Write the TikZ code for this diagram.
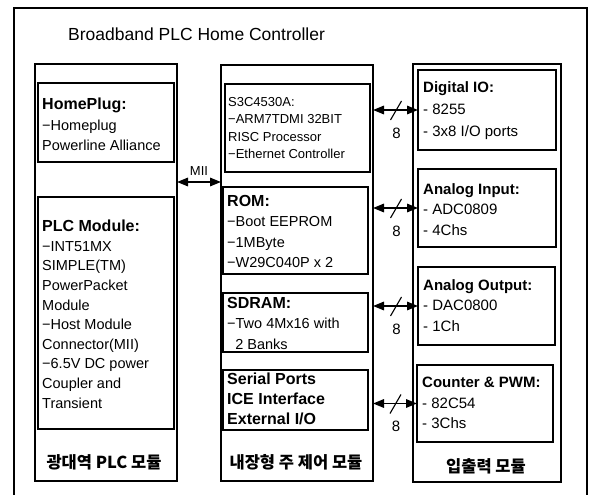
\documentclass[tikz,border=0pt]{standalone}
\usepackage{fontspec}
\setmainfont{Liberation Sans}
\newfontfamily\kr{Noto Sans CJK KR}
\usetikzlibrary{arrows.meta,calc}
\newcommand\hdbig[1]{{\fontsize{16}{20.5}\selectfont\bfseries #1}}
\tikzset{
  frameline/.style={line width=1.6pt},
  colbox/.style={draw, line width=1.2pt, anchor=north west, inner sep=0pt, outer sep=0pt},
  inbox/.style={draw, line width=1.7pt, anchor=north west, inner sep=0pt, outer sep=0pt},
  txt/.style={inner sep=0pt, anchor=north west, align=left, font=\fontsize{14.5}{20.5}\selectfont},
  plctxt/.style={inner sep=0pt, anchor=north west, align=left, font=\fontsize{14.5}{19.6}\selectfont},
  smalltxt/.style={inner sep=0pt, anchor=north west, align=left, font=\fontsize{13}{17.5}\selectfont},
  righttxt/.style={inner sep=0pt, anchor=north west, align=left, font=\fontsize{15}{20.5}\selectfont},
  krlabel/.style={inner sep=0pt, font=\kr\bfseries\fontsize{16.5}{18}\selectfont},
  dblarrow/.style={line width=1.6pt, {Triangle[length=11pt,width=8.5pt]}-{Triangle[length=11pt,width=8.5pt]}},
  busslash/.style={line width=1.1pt},
  buslabel/.style={inner sep=0pt, font=\fontsize{15}{17}\selectfont}
}
\begin{document}
\begin{tikzpicture}[x=1pt,y=-1pt]
\useasboundingbox (0,0) rectangle (590,495);
% outer frame (open at bottom)
\draw[frameline] (14,500) -- (14,8) -- (587,8) -- (587,500);
\node[inner sep=0pt, anchor=west, font=\fontsize{17.5}{20}\selectfont] (title) at (68,34) {Broadband PLC Home Controller};

% columns
\node[colbox, minimum width=142pt, minimum height=417pt] (lc) at (35,64) {};
\node[colbox, minimum width=152pt, minimum height=416pt] (mc) at (221,65) {};
\node[colbox, minimum width=148pt, minimum height=418pt] (rc) at (413,64) {};

% left column boxes
\node[inbox, minimum width=136pt, minimum height=79pt] (hp) at (38,83) {};
\node[txt] (hpt) at (42,98) {\hdbig{HomePlug:}\\−Homeplug\\Powerline Alliance};
\node[inbox, minimum width=136pt, minimum height=232pt] (plc) at (38,197) {};
\node[plctxt] (plct) at (42,220) {\hdbig{PLC Module:}\\−INT51MX\\SIMPLE(TM)\\PowerPacket\\Module\\−Host Module\\Connector(MII)\\−6.5V DC power\\Coupler and\\Transient};
\node[krlabel] (lcl) at (104,462) {광대역 PLC 모듈};

% middle column boxes
\node[inbox, minimum width=145pt, minimum height=88pt] (s3c) at (225,84) {};
\node[smalltxt] (s3ct) at (228,97) {S3C4530A:\\−ARM7TDMI 32BIT\\RISC Processor\\−Ethernet Controller};
\node[inbox, minimum width=145pt, minimum height=87pt] (rom) at (223,187) {};
\node[txt] (romt) at (227,195) {\hdbig{ROM:}\\−Boot EEPROM\\−1MByte\\−W29C040P x 2};
\node[inbox, minimum width=145pt, minimum height=59pt] (sdram) at (223,293) {};
\node[txt] (sdramt) at (227,297) {\hdbig{SDRAM:}\\−Two 4Mx16 with\\\ \ 2 Banks};
\node[inbox, minimum width=145pt, minimum height=60pt] (ser) at (223,370) {};
\node[txt, font=\fontsize{14.5}{20}\selectfont] (sert) at (227,373) {\hdbig{Serial Ports}\\\hdbig{ICE Interface}\\\hdbig{External I/O}};
\node[krlabel] (mcl) at (296,462) {내장형 주 제어 모듈};

% right column boxes
\node[inbox, minimum width=138pt, minimum height=80pt] (dio) at (418,70) {};
\node[righttxt, font=\fontsize{15}{22}\selectfont] (diot) at (423,81) {\textbf{Digital IO:}\\- 8255\\- 3x8 I/O ports};
\node[inbox, minimum width=138pt, minimum height=78pt] (ain) at (418,169) {};
\node[righttxt] (aint) at (423,183) {\textbf{Analog Input:}\\- ADC0809\\- 4Chs};
\node[inbox, minimum width=137pt, minimum height=78pt] (aout) at (418,267) {};
\node[righttxt] (aoutt) at (423,279) {\textbf{Analog Output:}\\- DAC0800\\- 1Ch};
\node[inbox, minimum width=136pt, minimum height=77pt] (cnt) at (417,365) {};
\node[righttxt] (cntt) at (422,377) {\textbf{Counter \& PWM:}\\- 82C54\\- 3Chs};
\node[krlabel] (rcl) at (486,466) {입출력 모듈};

% MII link
\draw[dblarrow] (lc.east |- 0,182) -- (mc.west |- 0,182);
\node[inner sep=0pt, font=\fontsize{13}{15}\selectfont] (mii) at (199,171) {MII};

% 8-bit buses
\foreach \b in {dio,ain,aout,cnt}{
  \draw[dblarrow] (mc.east |- \b.west) -- (\b.west);
  \coordinate (m\b) at ($(mc.east |- \b.west)!0.5!(\b.west)$);
  \draw[busslash] ($(m\b)+(-5,10)$) -- ($(m\b)+(6,-9)$);
  \node[buslabel] at ($(m\b)+(1,23)$) {8};
}
\end{tikzpicture}
\end{document}
